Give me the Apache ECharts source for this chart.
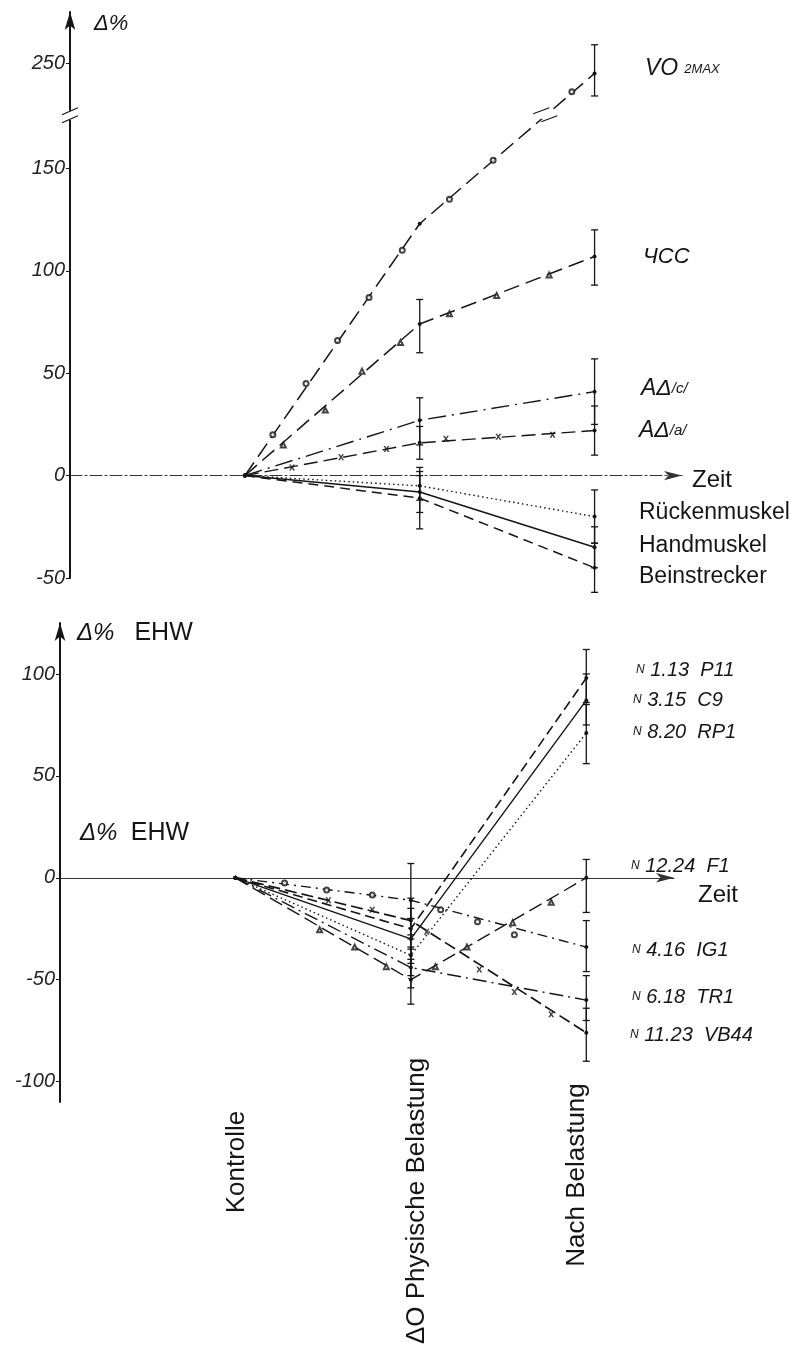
<!DOCTYPE html>
<html><head><meta charset="utf-8">
<script src="https://cdn.jsdelivr.net/npm/echarts@6/dist/echarts.min.js"></script>
<style>html,body{margin:0;padding:0;background:#fff}#c{width:795px;height:1349px}</style>
</head><body><div id="c"></div>
<script>
// ---------- data ----------
const stageX = [1, 2, 3];
const stageLabels = ['Kontrolle', 'ΔO Physische Belastung', 'Nach Belastung'];

// top panel
const topTicks = [-50, 0, 50, 100, 150, 250];
const vo2max = [0, 123, 245];
const chss = [0, 74, 107];
const adC = [0, 27, 41];
const adA = [0, 16, 22];
const ruecken = [0, -5, -20];
const hand = [0, -8, -35];
const bein = [0, -11, -45];
// error bars [x, low, high]
const topErrors = [
  [2, 60, 86], [2, 15, 38], [2, 8, 24], [2, -12, 2], [2, -18, 0], [2, -26, 4],
  [3, 234, 259], [3, 93, 120], [3, 25, 57], [3, 10, 34], [3, -7, -33], [3, -25, -45], [3, -33, -57]
];
// intermediate plot markers [x, y]
const vo2Marks = [[1.16, 20], [1.35, 45], [1.53, 66], [1.71, 87], [1.90, 110], [2.17, 135], [2.42, 154], [2.87, 236]];
const chssMarks = [[1.22, 15], [1.46, 32], [1.67, 51], [1.89, 65], [2.17, 79], [2.44, 88], [2.74, 98]];
const adAMarks = [[1.27, 4], [1.55, 9], [1.81, 13], [2.15, 18], [2.45, 19], [2.76, 20]];

// bottom panel
const bottomTicks = [-100, -50, 0, 50, 100];
const p11 = [0, -25, 98];
const c9 = [0, -30, 87];
const rp1 = [0, -38, 71];
const f1 = [0, -50, 0];
const ig1 = [0, -11, -34];
const tr1 = [0, -44, -60];
const vb44 = [0, -21, -76];
const bottomErrors = [
  [2, -20, 7], [2, -30, -10], [2, -35, -15], [2, -42, -20], [2, -48, -28], [2, -54, -34], [2, -62, -40],
  [3, 86, 112], [3, 75, 100], [3, 56, 85], [3, -17, 9], [3, -46, -21], [3, -70, -48], [3, -90, -64]
];
const ig1Marks = [[1.28, -2.5], [1.52, -6], [1.78, -8.5], [2.17, -15.7], [2.38, -21.6], [2.59, -28]];
const f1Marks = [[1.48, -25.5], [1.68, -34], [1.86, -43.6], [2.14, -43.6], [2.32, -34], [2.58, -22], [2.80, -12]];
const vb44Marks = [[1.53, -11], [1.78, -15.7], [2.09, -26.5], [2.39, -45], [2.59, -56], [2.80, -67]];

// ---------- helpers ----------
const INK = '#151515';
const FONT = 'Liberation Sans';
const crossPath = 'path://M0 0 L3 0 L5 3.2 L7 0 L10 0 L6.6 5 L10 10 L7 10 L5 6.8 L3 10 L0 10 L3.4 5 Z';

function lineSeries(name, vals, gi, dash, width) {
  return {
    name, type: 'line', xAxisIndex: gi, yAxisIndex: gi,
    data: vals.map((v, i) => [stageX[i], v]),
    symbol: 'circle', symbolSize: 4, showSymbol: true,
    itemStyle: { color: INK },
    lineStyle: { color: INK, width: width || 1.4, type: dash },
    z: 3, animation: false, silent: true
  };
}
function markSeries(name, pts, gi, symbol, size, filled) {
  return {
    name, type: 'scatter', xAxisIndex: gi, yAxisIndex: gi, data: pts,
    symbol, symbolSize: size,
    itemStyle: filled ? { color: INK } : { color: INK, borderColor: INK, borderWidth: 1 },
    z: 4, animation: false, silent: true
  };
}
function errSeries(name, data, gi) {
  return {
    name, type: 'custom', xAxisIndex: gi, yAxisIndex: gi, data,
    encode: { x: 0, y: [1, 2] }, z: 2, animation: false, silent: true,
    renderItem(params, api) {
      const x = api.value(0), lo = api.value(1), hi = api.value(2);
      const a = api.coord([x, lo]), b = api.coord([x, hi]);
      const w = 3.5;
      const st = { stroke: INK, lineWidth: 1.3 };
      return {
        type: 'group', children: [
          { type: 'line', shape: { x1: a[0], y1: a[1], x2: b[0], y2: b[1] }, style: st },
          { type: 'line', shape: { x1: a[0] - w, y1: a[1], x2: a[0] + w, y2: a[1] }, style: st },
          { type: 'line', shape: { x1: b[0] - w, y1: b[1], x2: b[0] + w, y2: b[1] }, style: st }
        ]
      };
    }
  };
}
function xAxisDef(gi, dash) {
  return {
    type: 'value', gridIndex: gi, min: 0, max: 3.5,
    axisLine: { show: true, onZero: true, symbol: ['none', 'arrow'], symbolSize: [7, 18],
      lineStyle: { color: '#333', width: 1.1, type: dash } },
    axisTick: { show: false }, axisLabel: { show: false }, splitLine: { show: false }
  };
}
function yAxisDef(gi, min, max, ticks, extra) {
  return Object.assign({
    type: 'value', gridIndex: gi, min, max,
    axisLine: { show: true, symbol: ['none', 'arrow'], symbolSize: [8, 18],
      lineStyle: { color: INK, width: 2 } },
    axisTick: { show: true, length: 4, customValues: ticks, lineStyle: { color: INK, width: 1 } },
    axisLabel: { customValues: ticks, fontSize: 20, fontStyle: 'italic', color: '#222',
      fontFamily: FONT, margin: 5 },
    splitLine: { show: false }
  }, extra || {});
}
function txt(x, y, text, size, opts) {
  return { type: 'text', x, y, silent: true,
    style: Object.assign({ text, fill: INK, fontSize: size, fontFamily: FONT,
      textVerticalAlign: 'middle' }, opts || {}) };
}
const it = (s) => ({ fontSize: s, fontStyle: 'italic', fontFamily: FONT, fill: INK, color: INK });
const up = (s) => ({ fontSize: s, fontFamily: FONT, color: INK });

const graphics = [
  // top panel
  txt(94, 24, 'Δ%', 22, { fontStyle: 'italic' }),
  txt(645, 69, '{a|VO} {b|2MAX}', 22, { rich: { a: it(23), b: it(13) } }),
  txt(643, 257, 'ЧСС', 22, { fontStyle: 'italic' }),
  txt(641, 389, '{a|AΔ}{b|/c/}', 22, { rich: { a: it(23), b: it(15) } }),
  txt(639, 431, '{a|AΔ}{b|/a/}', 22, { rich: { a: it(23), b: it(15) } }),
  txt(692, 480, 'Zeit', 24),
  txt(639, 513, 'Rückenmuskel', 23),
  txt(639, 546, 'Handmuskel', 23),
  txt(639, 577, 'Beinstrecker', 23),
  // bottom panel
  txt(77, 633, '{i|Δ%}   {n|EHW}', 24, { rich: { i: it(24), n: up(25) } }),
  txt(80, 833, '{i|Δ%}  {n|EHW}', 24, { rich: { i: it(24), n: up(25) } }),
  txt(636, 670, '{s|N} 1.13  P11', 20, { fontStyle: 'italic', rich: { s: it(12) } }),
  txt(633, 700, '{s|N} 3.15  C9', 20, { fontStyle: 'italic', rich: { s: it(12) } }),
  txt(633, 732, '{s|N} 8.20  RP1', 20, { fontStyle: 'italic', rich: { s: it(12) } }),
  txt(631, 866, '{s|N} 12.24  F1', 20, { fontStyle: 'italic', rich: { s: it(12) } }),
  txt(698, 895, 'Zeit', 24),
  txt(632, 950, '{s|N} 4.16  IG1', 20, { fontStyle: 'italic', rich: { s: it(12) } }),
  txt(632, 997, '{s|N} 6.18  TR1', 20, { fontStyle: 'italic', rich: { s: it(12) } }),
  txt(630, 1035, '{s|N} 11.23  VB44', 20, { fontStyle: 'italic', rich: { s: it(12) } }),
  // stage labels (rotated)
  { type: 'text', x: 237, y: 1162, rotation: Math.PI / 2, silent: true,
    style: { text: stageLabels[0], fontSize: 26, fontFamily: FONT, fill: INK, textAlign: 'center', textVerticalAlign: 'middle' } },
  { type: 'text', x: 417, y: 1201, rotation: Math.PI / 2, silent: true,
    style: { text: stageLabels[1], fontSize: 26, fontFamily: FONT, fill: INK, textAlign: 'center', textVerticalAlign: 'middle' } },
  { type: 'text', x: 577, y: 1175, rotation: Math.PI / 2, silent: true,
    style: { text: stageLabels[2], fontSize: 26, fontFamily: FONT, fill: INK, textAlign: 'center', textVerticalAlign: 'middle' } }
];

const option = {
  animation: false,
  backgroundColor: '#fff',
  grid: [
    { left: 70, right: 113, top: 12, bottom: 771 },
    { left: 60, right: 121, top: 623, bottom: 247 }
  ],
  xAxis: [xAxisDef(0, [12, 3, 2, 3]), xAxisDef(1, 'solid')],
  yAxis: [
    yAxisDef(0, -50, 275, topTicks, {
      breaks: [{ start: 175, end: 225, gap: '0.5%' }],
      breakArea: { show: false }
    }),
    yAxisDef(1, -110, 125, bottomTicks)
  ],
  series: [
    errSeries('topErr', topErrors, 0),
    lineSeries('VO2max', vo2max, 0, [16, 7], 1.5),
    lineSeries('ЧСС', chss, 0, [16, 7], 1.5),
    lineSeries('AΔ/c/', adC, 0, [18, 6, 2, 6], 1.4),
    lineSeries('AΔ/a/', adA, 0, [14, 6], 1.4),
    lineSeries('Rückenmuskel', ruecken, 0, [1.5, 3], 1.4),
    lineSeries('Handmuskel', hand, 0, 'solid', 1.5),
    lineSeries('Beinstrecker', bein, 0, [10, 6], 1.5),
    markSeries('VO2max marks', vo2Marks, 0, 'emptyCircle', 5),
    markSeries('ЧСС marks', chssMarks, 0, 'emptyTriangle', 5),
    markSeries('AΔ/a/ marks', adAMarks, 0, crossPath, 6, true),

    errSeries('bottomErr', bottomErrors, 1),
    lineSeries('N 1.13 P11', p11, 1, [10, 5], 1.6),
    lineSeries('N 3.15 C9', c9, 1, 'solid', 1.4),
    lineSeries('N 8.20 RP1', rp1, 1, [1.5, 3], 1.4),
    lineSeries('N 12.24 F1', f1, 1, [14, 6], 1.4),
    lineSeries('N 4.16 IG1', ig1, 1, [10, 5, 2, 5], 1.4),
    lineSeries('N 6.18 TR1', tr1, 1, [14, 5, 2, 5], 1.4),
    lineSeries('N 11.23 VB44', vb44, 1, [12, 5], 1.7),
    markSeries('IG1 marks', ig1Marks, 1, 'emptyCircle', 5),
    markSeries('F1 marks', f1Marks, 1, 'emptyTriangle', 5),
    markSeries('VB44 marks', vb44Marks, 1, crossPath, 6, true)
  ],
  graphic: graphics
};

const chart = echarts.init(document.getElementById('c'), null, { renderer: 'canvas' });
chart.setOption(option);

// axis-break marks ("//") on the y axis and on the VO2max line
const yb = chart.convertToPixel({ yAxisIndex: 0 }, 175);
const yb2 = chart.convertToPixel({ yAxisIndex: 0 }, 225);
const ym = (yb + yb2) / 2;
const ax = chart.convertToPixel({ xAxisIndex: 0 }, 0);
const pA = chart.convertToPixel({ xAxisIndex: 0, yAxisIndex: 0 }, [stageX[1], vo2max[1]]);
const pB = chart.convertToPixel({ xAxisIndex: 0, yAxisIndex: 0 }, [stageX[2], vo2max[2]]);
const t = (pA[1] - ym) / (pA[1] - pB[1]);
const lx = pA[0] + t * (pB[0] - pA[0]);
const bs = { stroke: INK, lineWidth: 1.2 };
chart.setOption({
  graphic: graphics.concat([
    { type: 'rect', shape: { x: ax - 5, y: ym - 5, width: 10, height: 9 }, style: { fill: '#fff' }, z: 100 },
    { type: 'line', shape: { x1: ax - 8, y1: ym - 1, x2: ax + 8, y2: ym - 8 }, style: bs, z: 101 },
    { type: 'line', shape: { x1: ax - 8, y1: ym + 7, x2: ax + 8, y2: ym }, style: bs, z: 101 },
    { type: 'rect', shape: { x: lx - 5, y: ym - 4, width: 10, height: 7 }, style: { fill: '#fff' }, z: 100 },
    { type: 'line', shape: { x1: lx - 12, y1: ym - 2, x2: lx + 4, y2: ym - 8 }, style: bs, z: 101 },
    { type: 'line', shape: { x1: lx - 4, y1: ym + 6, x2: lx + 12, y2: ym }, style: bs, z: 101 }
  ])
}, { replaceMerge: ['graphic'] });
</script>
</body></html>
